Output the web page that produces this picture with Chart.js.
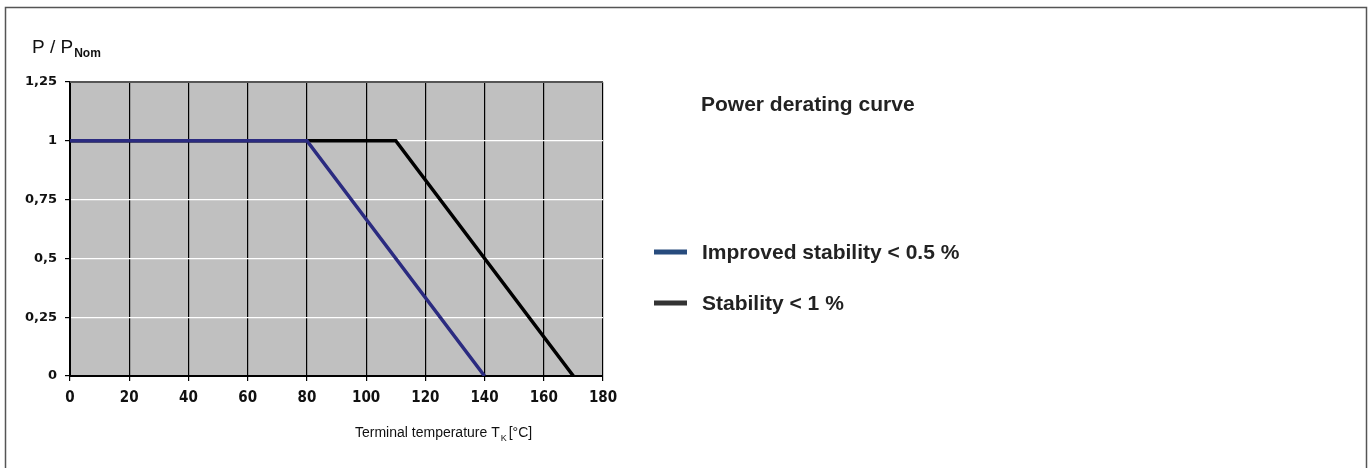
<!DOCTYPE html>
<html>
<head>
<meta charset="utf-8">
<script src="https://cdn.jsdelivr.net/npm/chart.js@4.4.1/dist/chart.umd.min.js"></script>
<style>
  html, body { margin: 0; padding: 0; background: #fff; }
  #wrap { position: relative; width: 1370px; height: 468px; }
</style>
</head>
<body>
<div id="wrap"><canvas id="derating" width="1370" height="468"></canvas></div>
<script>
// Power derating curve - P/PNom over terminal temperature

const tempImproved = [0, 80, 140];
const powerImproved = [1, 1, 0];
const tempStandard = [0, 110, 170];
const powerStandard = [1, 1, 0];
const seriesNames = ["Improved stability < 0.5 %", "Stability < 1 %"];
const chartTitle = "Power derating curve";
const yTicks = [0, 0.25, 0.5, 0.75, 1, 1.25];

const blueLine = '#2b2b80';
const blackLine = '#000000';

function toPoints(xs, ys) {
    return xs.map((x, i) => ({ x: x, y: ys[i] }));
}

// grey plot background, frame, titles and the legend on the right
const decorations = {
    id: 'decorations',
    beforeDraw(chart) {
        const ctx = chart.ctx;
        const a = chart.chartArea;
        ctx.save();
        ctx.fillStyle = '#c0c0c0';
        ctx.fillRect(a.left, a.top, a.right - a.left, a.bottom - a.top);
        ctx.restore();
    },
    afterDraw(chart) {
        const ctx = chart.ctx;
        const a = chart.chartArea;
        ctx.save();

        // top edge of plot
        ctx.strokeStyle = '#555';
        ctx.lineWidth = 2;
        ctx.beginPath();
        ctx.moveTo(a.left, a.top);
        ctx.lineTo(a.right, a.top);
        ctx.stroke();

        // outer frame
        ctx.strokeStyle = '#555';
        ctx.lineWidth = 1.5;
        ctx.strokeRect(5.5, 7.5, 1361, 470);

        // y axis title  P / P_Nom
        ctx.fillStyle = '#111';
        ctx.textBaseline = 'alphabetic';
        ctx.textAlign = 'left';
        ctx.font = '19px "Liberation Sans", Arial, sans-serif';
        ctx.fillText('P / P', 32, 53);
        const w = ctx.measureText('P / P').width;
        ctx.font = 'bold 12px "Liberation Sans", Arial, sans-serif';
        ctx.fillText('Nom', 32 + w + 1, 57);

        // x axis title
        ctx.font = '14px "Liberation Sans", Arial, sans-serif';
        const t1 = 'Terminal temperature T';
        ctx.fillText(t1, 355, 437);
        let xx = 355 + ctx.measureText(t1).width;
        ctx.font = '9px "Liberation Sans", Arial, sans-serif';
        ctx.fillText('K', xx + 1, 441);
        xx += ctx.measureText('K').width + 3;
        ctx.font = '14px "Liberation Sans", Arial, sans-serif';
        ctx.fillText('[°C]', xx, 437);

        // chart title
        ctx.fillStyle = '#222';
        ctx.font = 'bold 21px "Liberation Sans", Arial, sans-serif';
        ctx.fillText(chartTitle, 701, 111);

        // legend
        const legendColors = ['#274b7d', '#333333'];
        const legendY = [252, 303];
        chart.data.datasets.forEach((ds, i) => {
            ctx.strokeStyle = legendColors[i];
            ctx.lineWidth = 5;
            ctx.beginPath();
            ctx.moveTo(654, legendY[i]);
            ctx.lineTo(687, legendY[i]);
            ctx.stroke();
            ctx.fillStyle = '#222';
            ctx.font = 'bold 21px "Liberation Sans", Arial, sans-serif';
            ctx.fillText(ds.label, 702, legendY[i] + 7);
        });
        ctx.restore();
    }
};

new Chart(document.getElementById('derating').getContext('2d'), {
    type: 'scatter',
    data: {
        datasets: [{
            label: seriesNames[0],
            data: toPoints(tempImproved, powerImproved),
            showLine: true,
            borderColor: blueLine,
            borderWidth: 3.5,
            pointRadius: 0,
            tension: 0,
            order: 0
        }, {
            label: seriesNames[1],
            data: toPoints(tempStandard, powerStandard),
            showLine: true,
            borderColor: blackLine,
            borderWidth: 3.5,
            pointRadius: 0,
            tension: 0,
            order: 1
        }]
    },
    options: {
        responsive: false,
        animation: false,
        layout: {
            padding: { left: 0, right: 767, top: 82, bottom: 52 }
        },
        plugins: {
            legend: { display: false },
            tooltip: { enabled: false }
        },
        scales: {
            x: {
                type: 'linear',
                min: 0,
                max: 180,
                ticks: {
                    stepSize: 20,
                    color: '#111',
                    padding: 8,
                    font: { family: '"DejaVu Sans Condensed", sans-serif', size: 15, weight: 'bold' }
                },
                grid: {
                    color: '#000',
                    lineWidth: 1.2,
                    tickColor: '#000',
                    tickLength: 5
                },
                border: { color: '#000', width: 2 },
                afterFit: function(scale) { scale.height = 40; }
            },
            y: {
                min: 0,
                max: 1.25,
                afterBuildTicks: function(scale) {
                    scale.ticks = yTicks.map(v => ({ value: v }));
                },
                ticks: {
                    color: '#111',
                    padding: 8,
                    font: { family: '"DejaVu Sans", Verdana, sans-serif', size: 13, weight: 'bold' },
                    callback: function(v) { return String(v).replace('.', ','); }
                },
                grid: {
                    color: '#fff',
                    lineWidth: 1.2,
                    tickColor: '#000',
                    tickLength: 5
                },
                border: { color: '#000', width: 2 },
                afterFit: function(scale) { scale.width = 70; }
            }
        }
    },
    plugins: [decorations]
});
</script>
</body>
</html>
